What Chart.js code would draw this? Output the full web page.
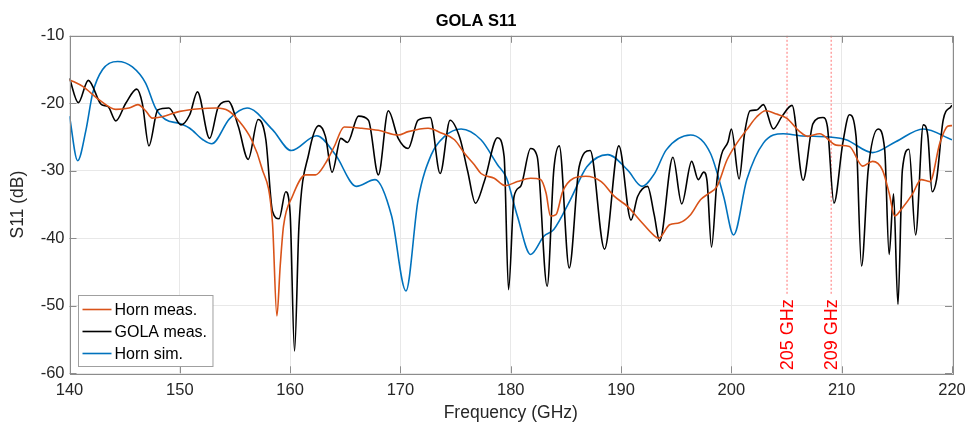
<!DOCTYPE html>
<html>
<head>
<meta charset="utf-8">
<script src="https://cdn.jsdelivr.net/npm/chart.js@4.4.1/dist/chart.umd.min.js"></script>
<style>
  html, body { margin: 0; padding: 0; background: #fff; }
  #wrap { width: 968px; height: 428px; position: relative; }
</style>
</head>
<body>
<div id="wrap"><canvas id="s11Chart"></canvas></div>
<script>
// Horn meas.
const hornMeasFreq = [140, 141.2, 142.7, 144.2, 145.4, 146.2, 146.9, 147.5, 148.4, 150, 151.8, 153.3,
    154.4, 155.3, 156.5, 157.4, 158.4, 158.8, 159.1, 159.4, 160.2, 161.4, 162.3, 163.2, 164, 164.9,
    166.5, 168, 169.8, 170.7, 172.5, 173.7, 174.9, 175.8, 176.7, 177.3, 178.5, 179.5, 180.6, 181.8,
    182.7, 183.2, 183.6, 184.1, 184.7, 185.7, 186.8, 188.2, 189.4, 190.6, 191.8, 193, 193.4, 194.4,
    195.3, 196.3, 197.2, 197.9, 198.7, 199.6, 200.5, 201.4, 202.3, 203.1, 204.1, 205, 206.2, 206.9,
    208, 209.5, 210.7, 211.9, 212.8, 213.7, 214.3, 214.8, 215.5, 216.4, 217.2, 218, 218.9, 219.6, 220];
const hornMeasDb = [-16.5, -17.5, -19.5, -20.9, -20.7, -20.2, -21.1, -22.2, -22, -21.2, -20.8, -20.7,
    -21.1, -22.5, -25.4, -29.4, -37.7, -51.5, -44.1, -38.2, -33.8, -30.6, -30.6, -28.9, -26.4, -23.5,
    -23.7, -24, -24.7, -24.2, -23.7, -24.4, -25.4, -27.4, -29.1, -30.4, -31.1, -32.2, -31.6, -31.1,
    -31.3, -33.3, -36.7, -36.5, -33.1, -31.1, -30.8, -31.6, -33.8, -35.3, -37.5, -39.6, -40, -38,
    -37.7, -36.5, -34.3, -33.4, -32.3, -28.4, -25.9, -23.9, -22, -21.1, -21.6, -22.2, -24.2, -24.9,
    -24.5, -26.2, -26.4, -29.3, -28.6, -29.9, -33.3, -36.7, -35.5, -33.5, -31.3, -31.6, -25.9, -23.4, -23.3];

// GOLA meas.
const golaFreq = [140, 140.8, 141.7, 142.9, 143.5, 144.2, 145.1, 146.1, 146.6, 147.2, 148, 149, 150.1,
    150.9, 151.6, 152.7, 153.5, 154.4, 155.3, 156.2, 157.1, 157.8, 158.4, 159, 159.6, 160, 160.4,
    160.8, 161.7, 162.6, 163.2, 163.8, 164.6, 165.2, 166.2, 167.1, 168, 168.9, 169.8, 170.7, 171.6,
    172.7, 173.6, 174.5, 175.4, 176.1, 176.8, 177.6, 178.8, 179.4, 179.8, 180.3, 180.9, 181.8, 182.4,
    183.3, 183.9, 184.4, 185.3, 186.2, 187.2, 188.5, 189.8, 190.9, 191.5, 192.4, 193, 193.5, 194.7,
    195.5, 196.4, 197, 197.5, 197.8, 198.2, 198.7, 199.1, 199.7, 200, 200.7, 201.2, 201.7, 202.3,
    202.9, 203.8, 204.6, 205.5, 206.5, 207.4, 208.3, 208.7, 209.3, 210.1, 210.7, 211.3, 211.8, 212.4,
    213.3, 213.9, 214.3, 214.7, 215.1, 215.5, 216.1, 216.7, 217.4, 217.8, 218.2, 218.6, 219.2, 219.9, 220];
const golaDb = [-16.3, -19.9, -16.6, -20.2, -20.5, -22.6, -20, -17.9, -20, -26.3, -21, -20.7, -23.2,
    -21.7, -18.3, -25.2, -20.5, -19.7, -23.4, -28.3, -22.4, -25.4, -36, -37.1, -33.1, -36.3, -56.7,
    -38.2, -27.4, -23.3, -24.9, -30.2, -25.2, -25.8, -21.9, -22.5, -30.6, -21.1, -25.2, -26.7, -22.5,
    -22.1, -30.4, -22.5, -25.2, -30.1, -34.8, -31.6, -25.1, -27.9, -47.6, -33.8, -32.3, -26.7, -27.9,
    -47.1, -29.9, -26.3, -44.4, -29.4, -27, -41.6, -26.3, -37.3, -33.8, -32.3, -36.5, -40.4, -28,
    -34.9, -28.6, -31.3, -30.2, -31.6, -41.3, -31.3, -27.6, -25.7, -23.8, -31.2, -24.4, -21.1, -21,
    -20.2, -23.8, -21.9, -20.3, -31.4, -23, -22.1, -23.4, -34.8, -25.9, -21.7, -24.9, -44.1, -29.9,
    -23.8, -26.9, -42.4, -33.4, -49.8, -29.9, -26.8, -39.5, -23.2, -24.7, -33.1, -31.3, -22.5, -20.5, -20.3];

// Horn sim.
const hornSimFreq = [140, 140.74, 141.5, 142.1, 143, 144.37, 145.7, 146.9, 147.8, 148.7, 150, 150.9,
    152.1, 152.9, 154.5, 156.1, 158.4, 160.1, 162.4, 164.1, 166, 167.7, 169.2, 170.5, 171.6, 172.8,
    174, 175.5, 177.3, 178.8, 179.6, 180.6, 181.8, 183, 183.9, 185.4, 186.9, 188.8, 190.6, 191.9,
    193, 194.1, 196.3, 198.1, 199.3, 200.2, 201.4, 202.9, 204.7, 206.2, 208.9, 210.4, 212.8, 214.9,
    217.4, 220];
const hornSimDb = [-21.9, -28.5, -23.9, -18.5, -15, -13.8, -14.6, -17, -20.7, -22.4, -23, -23.7,
    -25.4, -26, -22.3, -20.7, -23.9, -27, -24.8, -27.6, -32.3, -31.3, -36.7, -47.8, -34.3, -27.6,
    -24.9, -23.8, -25.4, -29.1, -31, -36.7, -42.4, -39.7, -38.7, -34.3, -29.4, -27.6, -29.9, -32.3,
    -30.5, -26.9, -24.7, -27.4, -33.8, -39.5, -31.3, -25.9, -24.5, -24.8, -25, -25.4, -27.3, -25.7,
    -23.8, -25.4];

// Vertical marker lines
const markerFreqs = [205, 209];
const markerLabels = ['205 GHz', '209 GHz'];

const xTicks = [140, 150, 160, 170, 180, 190, 200, 210, 220];
const yTicks = [-60, -50, -40, -30, -20, -10];

const FONT = '"Liberation Sans", Arial, Helvetica, sans-serif';
const TEXT = '#262626';

function toPoints(xs, ys) {
    const n = Math.min(xs.length, ys.length);
    const pts = [];
    for (let i = 0; i < n; i++) pts.push({ x: xs[i], y: ys[i] });
    return pts;
}

// Linien 205/209 GHz mit gedrehter Beschriftung
const markerPlugin = {
    id: 'markers',
    beforeDatasetsDraw(chart) {
        const ctx = chart.ctx;
        const area = chart.chartArea;
        const xs = chart.scales.x;
        ctx.save();
        ctx.font = '18px ' + FONT;
        markerFreqs.forEach((f, i) => {
            const px = xs.getPixelForValue(f);
            const label = markerLabels[i];
            const w = ctx.measureText(label).width;
            const textTop = area.bottom - 3 - w;
            ctx.strokeStyle = 'rgba(255, 0, 0, 0.55)';
            ctx.lineWidth = 1;
            ctx.setLineDash([2, 2]);
            ctx.beginPath();
            ctx.moveTo(px + 0.5, area.top);
            ctx.lineTo(px + 0.5, textTop - 4);
            ctx.stroke();
            ctx.setLineDash([]);
            ctx.save();
            ctx.translate(px + 1, area.bottom - 3);
            ctx.rotate(-Math.PI / 2);
            ctx.fillStyle = '#ff0000';
            ctx.textAlign = 'left';
            ctx.textBaseline = 'middle';
            ctx.fillText(label, 0, 0);
            ctx.restore();
        });
        ctx.restore();
    }
};

// Rahmen, Ticks nach innen, Legende unten links
const boxPlugin = {
    id: 'box',
    afterDatasetsDraw(chart) {
        const ctx = chart.ctx;
        const a = chart.chartArea;
        const xs = chart.scales.x, ys = chart.scales.y;
        ctx.save();
        ctx.strokeStyle = '#8c8c8c';
        ctx.lineWidth = 1;
        ctx.strokeRect(Math.round(a.left) + 0.5, Math.round(a.top) + 0.5,
            Math.round(a.right - a.left), Math.round(a.bottom - a.top));
        ctx.beginPath();
        xTicks.forEach(v => {
            const px = Math.round(xs.getPixelForValue(v)) + 0.5;
            ctx.moveTo(px, a.bottom); ctx.lineTo(px, a.bottom - 7);
            ctx.moveTo(px, a.top); ctx.lineTo(px, a.top + 7);
        });
        yTicks.forEach(v => {
            const py = Math.round(ys.getPixelForValue(v)) + 0.5;
            ctx.moveTo(a.left, py); ctx.lineTo(a.left + 7, py);
            ctx.moveTo(a.right, py); ctx.lineTo(a.right - 7, py);
        });
        ctx.stroke();

        // Legende
        const sets = chart.data.datasets;
        ctx.font = '16px ' + FONT;
        let maxW = 0;
        sets.forEach(d => { maxW = Math.max(maxW, ctx.measureText(d.label).width); });
        const rowH = 22;
        const boxW = 4 + 29 + 4 + maxW + 5;
        const boxH = rowH * sets.length + 5;
        const bx = Math.round(a.left + 8) + 0.5;
        const by = Math.round(a.bottom - 7 - boxH) + 0.5;
        ctx.fillStyle = '#fff';
        ctx.fillRect(bx, by, boxW, boxH);
        ctx.strokeStyle = '#a0a0a0';
        ctx.strokeRect(bx, by, boxW, boxH);
        sets.forEach((d, i) => {
            const cy = by + 3 + rowH * i + rowH / 2;
            ctx.strokeStyle = d.borderColor;
            ctx.lineWidth = 1.6;
            ctx.beginPath();
            ctx.moveTo(bx + 4, cy);
            ctx.lineTo(bx + 33, cy);
            ctx.stroke();
            ctx.fillStyle = '#000';
            ctx.textBaseline = 'middle';
            ctx.textAlign = 'left';
            ctx.fillText(d.label, bx + 36, cy + 1);
        });
        ctx.restore();
    }
};

new Chart(document.getElementById('s11Chart'), {
    type: 'line',
    data: {
        datasets: [{
            label: 'Horn meas.',
            data: toPoints(hornMeasFreq, hornMeasDb),
            borderColor: '#D95319',
            borderWidth: 1.6,
            pointRadius: 0,
            cubicInterpolationMode: 'monotone'
        }, {
            label: 'GOLA meas.',
            data: toPoints(golaFreq, golaDb),
            borderColor: '#000000',
            borderWidth: 1.6,
            pointRadius: 0,
            cubicInterpolationMode: 'monotone'
        }, {
            label: 'Horn sim.',
            data: toPoints(hornSimFreq, hornSimDb),
            borderColor: '#0072BD',
            borderWidth: 1.6,
            pointRadius: 0,
            cubicInterpolationMode: 'monotone'
        }]
    },
    options: {
        responsive: true,
        maintainAspectRatio: false,
        animation: false,
        events: [],
        layout: { padding: { left: 0, right: 16, top: 0, bottom: 0 } },
        plugins: {
            legend: { display: false },
            tooltip: { enabled: false },
            title: {
                display: true,
                text: 'GOLA S11',
                color: '#000',
                font: { family: FONT, size: 16.5, weight: 'bold' },
                padding: { top: 12, bottom: 4 }
            }
        },
        scales: {
            x: {
                type: 'linear',
                min: 140,
                max: 220,
                afterFit: s => { s.height = 54.7; s.paddingLeft = 0; s.paddingRight = 0; },
                afterBuildTicks: s => { s.ticks = xTicks.map(v => ({ value: v })); },
                ticks: { color: TEXT, padding: 7, font: { family: FONT, size: 16.5 } },
                grid: { color: '#e8e8e8', drawTicks: false },
                border: { display: false },
                title: {
                    display: true,
                    text: 'Frequency (GHz)',
                    color: TEXT,
                    font: { family: FONT, size: 17.5 },
                    padding: { top: 0, bottom: 4 }
                }
            },
            y: {
                min: -60,
                max: -10,
                afterFit: s => { s.width = 69.5; },
                afterBuildTicks: s => { s.ticks = yTicks.map(v => ({ value: v })); },
                ticks: { color: TEXT, padding: 5, font: { family: FONT, size: 16.5 } },
                grid: { color: '#e8e8e8', drawTicks: false },
                border: { display: false },
                title: {
                    display: true,
                    text: 'S11 (dB)',
                    color: TEXT,
                    font: { family: FONT, size: 17.5 },
                    padding: { top: 8, bottom: 0 }
                }
            }
        }
    },
    plugins: [markerPlugin, boxPlugin]
});
</script>
</body>
</html>
